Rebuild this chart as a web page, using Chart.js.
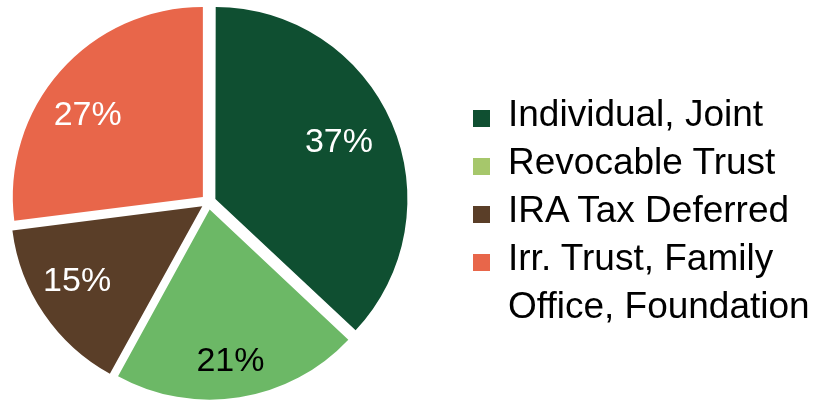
<!DOCTYPE html>
<html>
<head>
<meta charset="utf-8">
<script src="https://cdn.jsdelivr.net/npm/chart.js@4"></script>
<style>
  html, body { margin: 0; padding: 0; background: #fff; overflow: hidden; }
  .wrap { position: relative; width: 823px; height: 401px; overflow: hidden; }
  #pie { position: absolute; left: 0; top: -3px; }
  .legend { position: absolute; left: 473px; top: 90px; font-family: "Liberation Sans", Arial, sans-serif; font-size: 37px; color: #000; white-space: nowrap; }
  .legend .item { display: flex; align-items: flex-start; line-height: 48px; }
  .legend .box { width: 17px; height: 17px; margin-top: 20px; margin-right: 18px; flex: none; }
</style>
</head>
<body>
<div class="wrap">
  <canvas id="pie" width="823" height="410"></canvas>
  <div class="legend" id="legend"></div>
</div>
<script>
const categories = ['Individual, Joint', 'Revocable Trust', 'IRA Tax Deferred', 'Irr. Trust, Family\nOffice, Foundation'];
const shares = [37, 21, 15, 27];
const sliceColors = ['#0f4f31', '#6cb866', '#5a3e28', '#e8664a'];
const legendColors = ['#0f4f31', '#a6c76b', '#5a3e28', '#e8664a'];
const labelColors = ['#fff', '#000', '#fff', '#fff'];
// label placement: fraction of radius, and angle nudge in degrees
const labelRadius = [0.76, 0.83, 0.80, 0.79];
const labelNudge = [-2, 1, 4, -5];

// Percent labels placed out towards the rim
const pctLabels = {
    id: 'pctLabels',
    afterDatasetsDraw(chart) {
        const ctx = chart.ctx;
        const meta = chart.getDatasetMeta(0);
        ctx.save();
        ctx.font = '34px "Liberation Sans", Arial, sans-serif';
        ctx.textAlign = 'center';
        ctx.textBaseline = 'middle';
        meta.data.forEach(function(arc, i) {
            const p = arc.getProps(['x', 'y', 'startAngle', 'endAngle', 'outerRadius']);
            const mid = (p.startAngle + p.endAngle) / 2 + labelNudge[i] * Math.PI / 180;
            const r = p.outerRadius * labelRadius[i];
            ctx.fillStyle = labelColors[i];
            ctx.fillText(shares[i] + '%', p.x + Math.cos(mid) * r, p.y + Math.sin(mid) * r + 3);
        });
        ctx.restore();
    }
};

new Chart(document.getElementById('pie').getContext('2d'), {
    type: 'pie',
    data: {
        labels: categories,
        datasets: [{
            data: shares,
            backgroundColor: sliceColors,
            borderWidth: 0,
            offset: 30,
            hoverOffset: 30
        }]
    },
    options: {
        responsive: false,
        animation: false,
        layout: { padding: { left: -6, right: 406, top: 0, bottom: 0 } },
        plugins: {
            legend: { display: false },
            tooltip: { enabled: false }
        }
    },
    plugins: [pctLabels]
});

// Legend
const legendEl = document.getElementById('legend');
categories.forEach(function(name, i) {
    const item = document.createElement('div');
    item.className = 'item';
    const box = document.createElement('span');
    box.className = 'box';
    box.style.background = legendColors[i];
    const txt = document.createElement('span');
    txt.innerHTML = name.replace('\n', '<br>');
    item.appendChild(box);
    item.appendChild(txt);
    legendEl.appendChild(item);
});
</script>
</body>
</html>
